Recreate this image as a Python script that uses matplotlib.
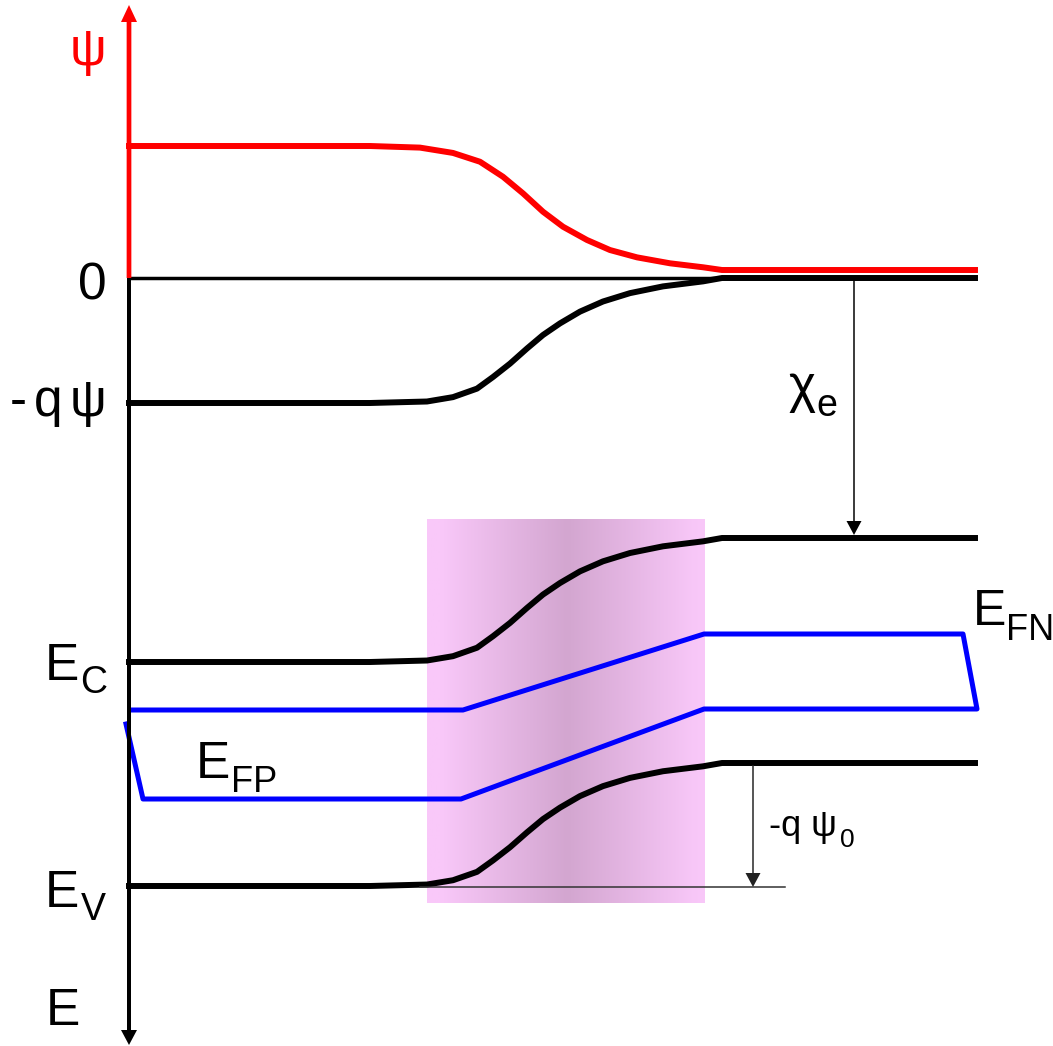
import numpy as np
import matplotlib.pyplot as plt
from matplotlib.colors import LinearSegmentedColormap

plt.rcParams['font.family'] = ['Liberation Sans', 'DejaVu Sans']

# picture frame: x to the right, energy downwards (same units as the drawing)
x_axis = 129
x_end = 975

# shape of the band bending through the junction (0 = left level, 1 = right level)
band_x = [370, 427, 453, 477, 493, 510, 527, 543, 560, 580, 603, 630, 663, 703, 722]
band_f = [0.0, 0.012, 0.047, 0.115, 0.208, 0.315, 0.436, 0.544, 0.637, 0.731, 0.812, 0.879, 0.933, 0.973, 1.0]
# the potential curve has a slightly different shape
pot_x = [370, 420, 453, 480, 503, 523, 543, 563, 587, 610, 637, 670, 703, 722]
pot_f = [0.0, 0.013, 0.056, 0.127, 0.248, 0.382, 0.53, 0.651, 0.758, 0.839, 0.898, 0.946, 0.978, 1.0]

# left / right levels of each curve
psi_lv = (146, 270)      # potential (red)
mqpsi_lv = (403, 278)    # -q psi
ec_lv = (662, 538)       # conduction band
ev_lv = (886, 763)       # valence band
zero_y = 278

# quasi Fermi levels (one continuous blue path)
fermi_x = [130, 463, 704, 963, 977, 704, 461, 143, 126]
fermi_y = [710, 710, 634, 634, 709, 709, 799, 799, 724]

# depletion region shading
box_x = (427, 705)
box_y = (519, 903)
grad_x = [427, 440, 567, 693, 705]
grad_t = [0.0, 0.0, 1.0, 0.05, 0.0]


def curve(xs, fs, lv):
    x = np.array([x_axis] + xs + [x_end])
    f = np.array([0.0] + fs + [1.0])
    return x, lv[0] + (lv[1] - lv[0]) * f


fig = plt.figure(figsize=(10.53, 10.46), dpi=100)
ax = fig.add_axes([0, 0, 1, 1])
ax.set_xlim(0, 1053)
ax.set_ylim(1046, 0)
ax.axis('off')

# shaded box
cmap = LinearSegmentedColormap.from_list('pk', ['#f9c8f9', '#d3a6d0'])
gx = np.arange(box_x[0], box_x[1] + 1)
gt = np.interp(gx, grad_x, grad_t)
ax.imshow(gt[np.newaxis, :], cmap=cmap, vmin=0, vmax=1, aspect='auto',
          extent=[box_x[0], box_x[1], box_y[1], box_y[0]], zorder=0, interpolation='bilinear')

# zero line and curves
ax.plot([x_axis, x_end], [zero_y, zero_y], color='black', lw=2.5, zorder=2)
kw = dict(lw=4.3, zorder=3, solid_joinstyle='round')
ax.plot(*curve(pot_x, pot_f, psi_lv), color='red', **kw)
ax.plot(*curve(band_x, band_f, mqpsi_lv), color='black', **kw)
ax.plot(*curve(band_x, band_f, ec_lv), color='black', **kw)
ax.plot(*curve(band_x, band_f, ev_lv), color='black', **kw)
ax.plot(fermi_x, fermi_y, color='blue', lw=3.6, zorder=3)

# axes arrows
ax.arrow(x_axis, zero_y, 0, 5 - zero_y, width=4.7, head_width=16, head_length=17,
         length_includes_head=True, color='red', lw=0, zorder=4)
ax.arrow(x_axis, zero_y, 0, 1045 - zero_y, width=4, head_width=16, head_length=15,
         length_includes_head=True, color='black', lw=0, zorder=4)

# chi_e and psi_0 arrows
ax.arrow(854, 280, 0, 255, width=1.5, head_width=15, head_length=14,
         length_includes_head=True, color='black', lw=0, zorder=4)
ax.plot([420, 785], [887, 887], color='#333333', lw=1.1, zorder=3)
ax.arrow(753, 765, 0, 122, width=1.5, head_width=15, head_length=14,
         length_includes_head=True, color='#222222', lw=0, zorder=4)


def txt(x, y, s, size, color='black'):
    ax.text(x, y, s, fontsize=size, color=color, ha='left', va='baseline', zorder=5)


txt(70, 65, 'ψ', 37, 'red')
txt(78, 299, '0', 37)
txt(10, 416, '-', 37)
txt(34, 416, 'q', 37)
txt(70, 416, 'ψ', 37)
txt(45, 680, 'E', 37)
txt(80, 693, 'C', 27)
txt(196, 778, 'E', 37)
txt(231, 792, 'FP', 26)
txt(45, 907, 'E', 37)
txt(81, 920, 'V', 27)
txt(973, 625, 'E', 36)
txt(1006, 640, 'FN', 26)
txt(46, 1025, 'E', 37)
txt(788, 402, 'χ', 37)
txt(816, 416, 'e', 27)
txt(769, 836, '-q ψ', 26)
txt(840, 847, '0', 19)

plt.savefig('out.png', dpi=100)
